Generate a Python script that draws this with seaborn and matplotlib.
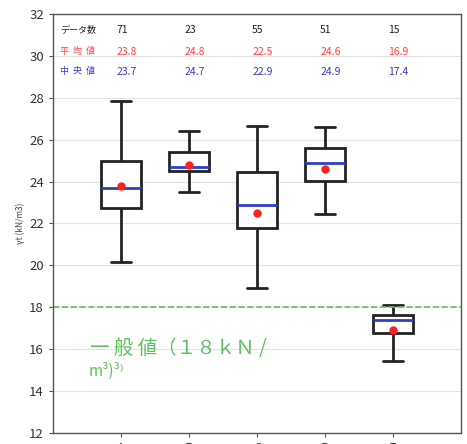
import numpy as np
import pandas as pd
import matplotlib
matplotlib.use("Agg")
import matplotlib.pyplot as plt
import seaborn as sns

# five-number summaries (low whisker, Q1, median, Q3, high whisker)
groups = ["A", "B", "C", "D", "E"]
low = [20.15, 23.5, 18.9, 22.45, 15.45]
q1 = [22.75, 24.5, 21.8, 24.05, 16.75]
median = [23.7, 24.7, 22.9, 24.9, 17.4]
q3 = [24.97, 25.4, 24.45, 25.6, 17.65]
high = [27.85, 26.4, 26.65, 26.6, 18.1]
mean = [23.8, 24.8, 22.5, 24.6, 16.9]
counts = [71, 23, 55, 51, 15]
general_value = 18

sns.set_style("white")
plt.rcParams["font.family"] = ["Noto Sans CJK JP", "DejaVu Sans"]

# five points per group -> quartiles land exactly on q1/median/q3
rows = []
for g, a, b, c, d, e in zip(groups, low, q1, median, q3, high):
    for v in (a, b, c, d, e):
        rows.append({"group": g, "value": v})
df = pd.DataFrame(rows)

fig = plt.figure(figsize=(4.67, 4.44), dpi=100)
ax = fig.add_axes([0.1135, 0.0248, 0.8735, 0.9437])

sns.boxplot(data=df, x="group", y="value", order=groups, ax=ax,
            color="white", linecolor="#222222", linewidth=2,
            width=0.6, whis=np.inf, showfliers=False,
            medianprops=dict(color="#2b3fc8", linewidth=2))
sns.stripplot(x=groups, y=mean, order=groups, jitter=False, color="#ff1f1f",
              size=6, linewidth=0, ax=ax, zorder=5)

ax.axhline(general_value, color="#5fbf5f", linestyle="--", linewidth=1.2)

ax.set_xlim(-1, 5)
ax.set_ylim(12, 32)
ax.set_yticks(range(12, 33, 2))
ax.yaxis.grid(True, color="#e3e3e3", linewidth=0.8)
ax.set_axisbelow(True)
for s in ax.spines.values():
    s.set_color("#555555")
    s.set_linewidth(1)
ax.tick_params(axis="both", direction="out", length=3, color="#555555",
               labelsize=9.5, labelcolor="#333333")
ax.tick_params(axis="y", left=True)
ax.tick_params(axis="x", bottom=True)
ax.set_xlabel("")
ax.set_ylabel("γt (kN/m3)", fontsize=6, color="#444444", labelpad=3)

# summary table at the top
ax.text(-0.9, 31.25, "データ数", fontsize=6.5, color="#222222", va="center")
ax.text(-0.9, 30.2, "平  均  値", fontsize=6.5, color="#ff4040", va="center")
ax.text(-0.9, 29.25, "中  央  値", fontsize=6.5, color="#3a3ac0", va="center")
for i in range(len(groups)):
    ax.text(i - 0.07, 31.25, str(counts[i]), fontsize=7.5, color="#222222", va="center")
    ax.text(i - 0.07, 30.2, f"{mean[i]:.1f}", fontsize=7.5, color="#ff4040", va="center")
    ax.text(i - 0.07, 29.25, f"{median[i]:.1f}", fontsize=7.5, color="#3a3ac0", va="center")

ax.text(-0.45, 16.05, "一 般 値（１８ｋＮ /", fontsize=14, color="#5fbf5f",
        va="center", family=["Noto Sans CJK JP", "DejaVu Sans"])
ax.text(-0.48, 14.95, "m³)³⁾", fontsize=11, color="#5fbf5f",
        va="center", family=["Noto Sans CJK JP", "DejaVu Sans"])

fig.savefig("out.png", dpi=100)
